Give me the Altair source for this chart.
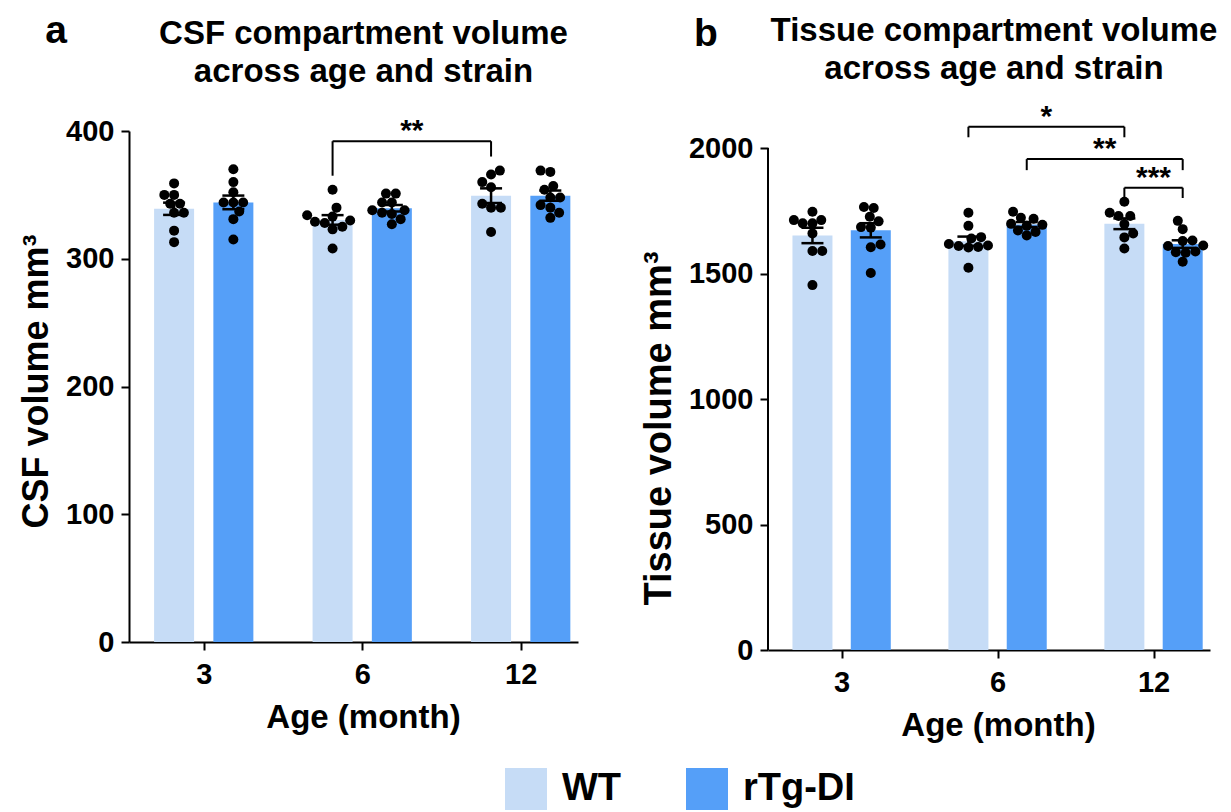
import json
import altair as alt
import pandas as pd

# ---------------- data ----------------
ages = ["3", "6", "12"]
strains = ["WT", "rTg-DI"]
strain_colors = ["#C6DCF6", "#559FF8"]

# CSF compartment volume (mm^3), individual animals
csf_wt_3 = [359, 350, 350, 343, 343, 336, 336, 322, 313]
csf_rtg_3 = [370, 360, 352, 344, 344, 344, 337, 331, 315]
csf_wt_6 = [354, 340, 334, 333, 330, 329, 328, 325, 323, 308]
csf_rtg_6 = [351, 351, 344, 344, 338, 338, 336, 335, 331, 327]
csf_wt_12 = [369, 366, 360, 356, 343, 340, 340, 321]
csf_rtg_12 = [369, 368, 357, 354, 348, 348, 342, 340, 336, 332]

# Tissue compartment volume (mm^3), individual animals
tis_wt_3 = [1746, 1713, 1713, 1700, 1700, 1660, 1590, 1590, 1454]
tis_rtg_3 = [1765, 1761, 1726, 1708, 1685, 1683, 1616, 1605, 1502]
tis_wt_6 = [1742, 1690, 1645, 1640, 1618, 1612, 1610, 1606, 1604, 1523]
tis_rtg_6 = [1746, 1722, 1718, 1698, 1694, 1690, 1672, 1666, 1652]
tis_wt_12 = [1786, 1742, 1729, 1729, 1697, 1660, 1644, 1600]
tis_rtg_12 = [1710, 1677, 1632, 1630, 1612, 1610, 1588, 1585, 1583, 1547]

csf_ticks = [0, 100, 200, 300, 400]
tis_ticks = [0, 500, 1000, 1500, 2000]

# significance brackets
csf_sig_from = [("6", "WT")]
csf_sig_to = [("12", "WT")]
csf_sig_y = [392]
csf_sig_leg_from = [365]
csf_sig_leg_to = [380]
csf_sig_text = ["**"]

tis_sig_from = [("6", "WT"), ("6", "rTg-DI"), ("12", "WT")]
tis_sig_to = [("12", "WT"), ("12", "rTg-DI"), ("12", "rTg-DI")]
tis_sig_y = [2085, 1956, 1842]
tis_sig_leg_from = [2043, 1912, 1801]
tis_sig_leg_to = [2043, 1912, 1801]
tis_sig_text = ["*", "**", "***"]

# ---------------- layout / style ----------------
FONT = "Liberation Sans"
X_DOMAIN = [-0.44, 2.33]
STRAIN_SHIFT = {"WT": -0.187, "rTg-DI": 0.187}
A_W, A_H = 449, 511
B_W, B_H = 442, 519
A_YDOM = [0, 400]
B_YDOM = [0, 2068]


def xpos(age, strain):
    return ages.index(age) + STRAIN_SHIFT[strain]


def swarm_offsets(vals, ppu, diam=9.5):
    order = sorted(range(len(vals)), key=lambda i: vals[i])
    placed = []
    offs = [0.0] * len(vals)
    cands = list(range(-40, 41))
    for i in order:
        yp = vals[i] * ppu
        bal = sum(p[0] for p in placed)
        best = 0
        for c in sorted(cands, key=lambda c: (abs(c), c if bal > 0 else -c)):
            if all((c - px) ** 2 + (yp - py) ** 2 >= diam ** 2 for px, py in placed):
                best = c
                break
        placed.append((best, yp))
        offs[i] = best
    return offs


def make_df(groups, ppu_y, ppu_x):
    rows = []
    for (age, strain), vals in groups:
        xc = xpos(age, strain)
        offs = swarm_offsets(vals, ppu_y)
        for v, o in zip(vals, offs):
            rows.append(dict(age=age, strain=strain, vol=v, xc=xc, xp=xc + o / ppu_x))
    return pd.DataFrame(rows)


def bracket_dfs(froms, tos, ys, l1s, l2s, texts):
    br, legs = [], []
    for f, t, y, l1, l2, tx in zip(froms, tos, ys, l1s, l2s, texts):
        x1, x2 = xpos(*f), xpos(*t)
        br.append(dict(x1=x1, x2=x2, y=y, xm=(x1 + x2) / 2, text=tx))
        legs.append(dict(x=x1, y=y, yb=l1))
        legs.append(dict(x=x2, y=y, yb=l2))
    return pd.DataFrame(br), pd.DataFrame(legs)


xspan = X_DOMAIN[1] - X_DOMAIN[0]
csf_df = make_df(
    [(("3", "WT"), csf_wt_3), (("3", "rTg-DI"), csf_rtg_3),
     (("6", "WT"), csf_wt_6), (("6", "rTg-DI"), csf_rtg_6),
     (("12", "WT"), csf_wt_12), (("12", "rTg-DI"), csf_rtg_12)],
    A_H / A_YDOM[1], A_W / xspan)
tis_df = make_df(
    [(("3", "WT"), tis_wt_3), (("3", "rTg-DI"), tis_rtg_3),
     (("6", "WT"), tis_wt_6), (("6", "rTg-DI"), tis_rtg_6),
     (("12", "WT"), tis_wt_12), (("12", "rTg-DI"), tis_rtg_12)],
    B_H / B_YDOM[1], B_W / xspan)

csf_br, csf_legs = bracket_dfs(csf_sig_from, csf_sig_to, csf_sig_y,
                               csf_sig_leg_from, csf_sig_leg_to, csf_sig_text)
tis_br, tis_legs = bracket_dfs(tis_sig_from, tis_sig_to, tis_sig_y,
                               tis_sig_leg_from, tis_sig_leg_to, tis_sig_text)

label_expr = json.dumps(ages) + "[datum.value]"

color_enc = alt.Color(
    "strain:N",
    scale=alt.Scale(domain=strains, range=strain_colors),
    legend=alt.Legend(
        title=None, orient="none", legendX=376, legendY=637,
        direction="horizontal", symbolType="square", symbolSize=1764,
        symbolStrokeWidth=0, symbolOpacity=1, labelFont=FONT,
        labelFontSize=38, labelFontWeight="bold", labelColor="black",
        labelOffset=15, columnPadding=64,
    ),
)


def panel(df, br, legs, ydom, yticks, w, h, ytitle, ytitle_y, ytitle_size, xtitle_x,
          title_lines, title_offset, title_dx, letter, letter_xy, own_axis_line):
    xs = alt.Scale(domain=X_DOMAIN, nice=False, zero=False)
    ys = alt.Scale(domain=ydom, nice=False, zero=True)
    xaxis = alt.Axis(values=[0, 1, 2], labelExpr=label_expr, title="Age (month)",
                     labelFontSize=29, titleFontSize=33, labelPadding=10,
                     titlePadding=12, tickSize=8, labelAngle=0, titleX=xtitle_x)
    yaxis = alt.Axis(values=yticks, format="d", title=ytitle, titleFontSize=ytitle_size,
                     labelFontSize=29, labelPadding=7, titlePadding=10,
                     tickSize=8, titleY=ytitle_y, domain=not own_axis_line)

    def X(f):
        return alt.X(f, scale=xs, axis=xaxis)

    def Y(f):
        return alt.Y(f, scale=ys, axis=yaxis)

    bars = alt.Chart(df).mark_bar(size=40, orient="vertical").encode(
        x=X("xc:Q"), y=Y("mean(vol):Q"), color=color_enc,
    )
    err = alt.Chart(df).transform_aggregate(
        m="mean(vol)", se="stderr(vol)", groupby=["xc"]
    ).transform_calculate(lo="datum.m - datum.se", hi="datum.m + datum.se")
    err_rule = err.mark_rule(color="black", strokeWidth=2.5).encode(
        x=X("xc:Q"), y=Y("lo:Q"), y2="hi:Q",
    )
    err_caps = err.transform_fold(["lo", "hi"], as_=["which", "ev"]).mark_tick(
        orient="horizontal", size=22, thickness=2.5, color="black", opacity=1
    ).encode(x=X("xc:Q"), y=Y("ev:Q"))
    points = alt.Chart(df).mark_circle(size=100, color="black", opacity=1).encode(
        x=X("xp:Q"), y=Y("vol:Q"),
    )
    br_h = alt.Chart(br).mark_rule(color="black", strokeWidth=2).encode(
        x=X("x1:Q"), x2="x2:Q", y=Y("y:Q"),
    )
    br_v = alt.Chart(legs).mark_rule(color="black", strokeWidth=2).encode(
        x=X("x:Q"), y=Y("y:Q"), y2="yb:Q",
    )
    br_t = alt.Chart(br).mark_text(
        font=FONT, fontSize=30, fontWeight="bold", color="black",
        baseline="middle", align="center", dy=-10,
    ).encode(x=X("xm:Q"), y=Y("y:Q"), text="text:N")
    let = alt.Chart(pd.DataFrame({"t": [letter]})).mark_text(
        font=FONT, fontSize=39, fontWeight="bold", color="black",
        align="center", baseline="middle",
    ).encode(text="t:N", x=alt.value(letter_xy[0]), y=alt.value(letter_xy[1]))

    layers = [bars, err_rule, err_caps, points, br_h, br_v, br_t, let]
    if own_axis_line:
        line = alt.Chart(pd.DataFrame({"lo": [yticks[0]], "hi": [yticks[-1]]})).mark_rule(
            color="black", strokeWidth=2
        ).encode(x=alt.value(0), y=Y("lo:Q"), y2="hi:Q")
        layers.append(line)

    return alt.layer(*layers).properties(
        width=w, height=h,
        title=alt.TitleParams(
            text=title_lines, font=FONT, fontSize=33, fontWeight="bold",
            color="black", anchor="middle", frame="group",
            offset=title_offset, dx=title_dx, lineHeight=38,
        ),
    )


pa = panel(csf_df, csf_br, csf_legs, A_YDOM, csf_ticks, A_W, A_H,
           "CSF volume mm³", 250, 36, 234,
           ["CSF compartment volume", "across age and strain"], -77, 10,
           "a", (-73, -100), False)
pb = panel(tis_df, tis_br, tis_legs, B_YDOM, tis_ticks, B_W, B_H,
           "Tissue volume mm³", 297, 38, 230,
           ["Tissue compartment volume", "across age and strain"], -71, 5,
           "b", (-62, -97), True)

chart = alt.hconcat(pa, pb, spacing=190, bounds="flush").resolve_scale(
    x="independent", y="independent", color="shared"
).properties(
    padding={"left": 10, "top": 4, "right": 5, "bottom": 0},
    background="white",
).configure_view(stroke=None).configure_axis(
    labelFont=FONT, titleFont=FONT, labelFontWeight="bold", titleFontWeight="bold",
    labelColor="black", titleColor="black", domainColor="black", tickColor="black",
    domainWidth=2, tickWidth=2, grid=False,
)

chart.save("out.html", embed_options={"renderer": "svg", "actions": False})
